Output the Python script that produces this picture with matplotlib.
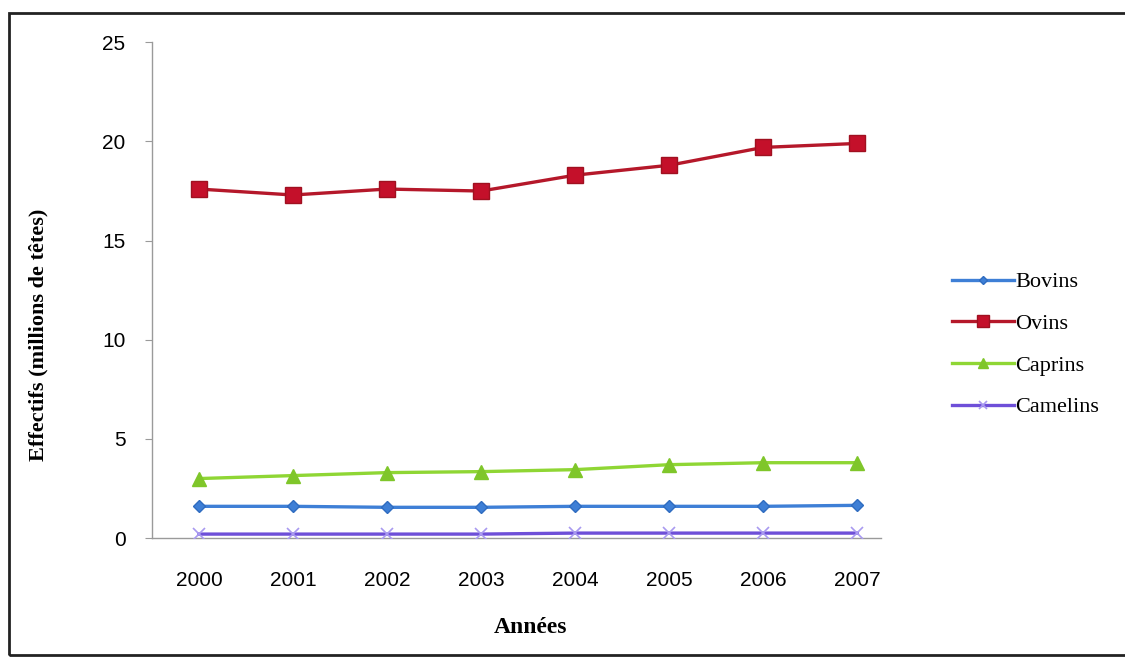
import matplotlib.pyplot as plt
from matplotlib.patches import Rectangle

annees = ["2000", "2001", "2002", "2003", "2004", "2005", "2006", "2007"]
bovins = [1.6, 1.6, 1.55, 1.55, 1.6, 1.6, 1.6, 1.65]
ovins = [17.6, 17.3, 17.6, 17.5, 18.3, 18.8, 19.7, 19.9]
caprins = [3.0, 3.15, 3.3, 3.35, 3.45, 3.7, 3.8, 3.8]
camelins = [0.2, 0.2, 0.2, 0.2, 0.25, 0.25, 0.25, 0.25]

serif = "Liberation Serif"
sans = "Liberation Sans"

fig = plt.figure(figsize=(11.25, 6.61), dpi=100)
fig.patches.append(Rectangle((9 / 1125, 6 / 661), 1.2, 1 - 19 / 661,
                             transform=fig.transFigure, fill=False,
                             edgecolor="#222222", linewidth=2.0))

ax = fig.add_axes([0.135, 0.186, 0.648, 0.75])
x = range(len(annees))

ax.plot(x, bovins, color="#3E7FD6", lw=2.4, marker="D", ms=6,
        mfc="#3E7FD6", mec="#2F6CC0", label="Bovins", zorder=3)
ax.plot(x, ovins, color="#B5182A", lw=2.4, marker="s", ms=12,
        mfc="#C4102A", mec="#A01020", label="Ovins", zorder=3)
ax.plot(x, caprins, color="#8FD634", lw=2.4, marker="^", ms=10,
        mfc="#7FC62A", mec="#7FC62A", label="Caprins", zorder=3)
ax.plot(x, camelins, color="#6E4FD8", lw=2.4, marker="x", ms=9,
        mec="#A99AF0", mew=1.2, label="Camelins", zorder=3)

ax.set_xlim(-0.5, 7.25)
ax.set_ylim(0, 25)
ax.set_yticks([0, 5, 10, 15, 20, 25])
ax.set_xticks(list(x))
ax.set_xticklabels(annees)

for side in ("top", "right"):
    ax.spines[side].set_visible(False)
for side in ("left", "bottom"):
    ax.spines[side].set_color("#9a9a9a")
    ax.spines[side].set_linewidth(1.0)

ax.tick_params(axis="y", length=5, color="#9a9a9a", pad=14,
               labelsize=15)
ax.tick_params(axis="x", length=0, pad=24, labelsize=15)
for lab in ax.get_xticklabels() + ax.get_yticklabels():
    lab.set_family(sans)

ax.set_xlabel("Années", family=serif, fontweight="bold", fontsize=17)
ax.xaxis.set_label_coords(0.52, -0.16)
ax.set_ylabel("Effectifs (millions de têtes)", family=serif,
              fontweight="bold", fontsize=16)
ax.yaxis.set_label_coords(-0.142, 0.41)

leg = ax.legend(loc="center left", bbox_to_anchor=(1.07, 0.39),
                frameon=False, prop={"family": serif, "size": 16},
                handlelength=2.8, handletextpad=0.05, labelspacing=0.95,
                markerscale=0.7)

fig.savefig("out.png", dpi=100)
